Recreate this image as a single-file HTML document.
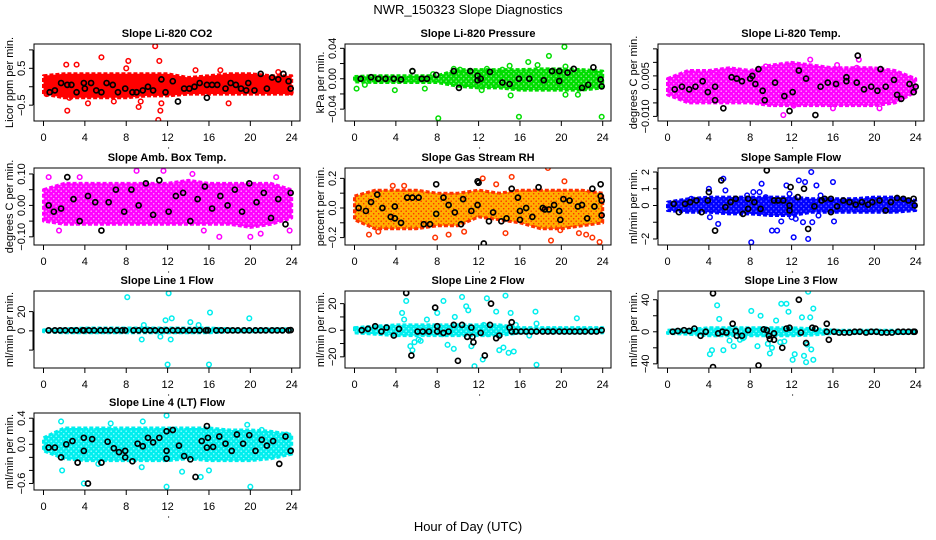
<!DOCTYPE html>
<html><head><meta charset="utf-8">
<style>
html,body{margin:0;padding:0;background:#fff;}
svg{display:block;font-family:"Liberation Sans",Arial,sans-serif;}
</style></head>
<body>
<svg id="chart" width="936" height="540" viewBox="0 0 936 540" xmlns="http://www.w3.org/2000/svg">
<defs id="defs"></defs>
<text x="468" y="14" font-size="13" text-anchor="middle">NWR_150323  Slope Diagnostics</text>
<text x="468" y="531" font-size="13" text-anchor="middle">Hour of Day (UTC)</text>
</svg>
<script>
// ---- data ----
const envHours = [0,2,4,6,8,10,12,14,16,18,20,22,24];
const xTicks = [0,4,8,12,16,20,24];

const co2Upper = [0.3,0.35,0.35,0.35,0.35,0.35,0.35,0.25,0.3,0.35,0.35,0.3,0.3];
const co2Lower = [-0.2,-0.3,-0.3,-0.3,-0.3,-0.25,-0.25,-0.2,-0.2,-0.2,-0.2,-0.2,-0.2];
const co2Out = [[2.2,0.6],[2.3,-0.65],[3.2,0.6],[5.6,0.8],[8.2,0.7],[8,0.5],[9.2,-0.55],[10.8,1.1],[11.2,0.7],[11.1,-0.9],[11.3,-0.65],[11.4,-0.45],[17.9,-0.45],[2.5,-0.3],[4.3,-0.45],[6.8,-0.4],[9.4,-0.4],[0.3,-0.2],[23.9,-0.15],[14.7,0.45],[17.1,0.45],[22.7,0.4]];
const co2Black = [[0.6,-0.15],[1.1,-0.1],[1.7,0.1],[2.3,0.05],[2.7,0.05],[3.2,-0.15],[3.9,0.1],[4,-0.05],[4.6,0.1],[5.1,-0.1],[5.6,-0.15],[6.1,0.1],[6.7,0.05],[7.2,-0.15],[7.9,-0.05],[8.6,-0.15],[9,-0.15],[9.6,-0.1],[10.1,0.0],[10.6,-0.1],[11.4,0.2],[11.8,-0.15],[12.5,0.15],[13,-0.4],[13.6,-0.05],[14.1,-0.05],[14.6,0.0],[15.1,0.1],[15.8,-0.3],[15.8,0.05],[16.3,0.05],[16.8,0.05],[17.6,-0.05],[18.1,0.1],[18.6,0.05],[19.1,-0.05],[19.6,-0.1],[19.8,0.1],[20.4,-0.1],[21,0.35],[21.6,-0.05],[22.1,0.25],[22.7,0.2],[23.2,0.35],[23.7,0.15],[23.9,-0.05]];

const presUpper = [0.003,0.004,0.004,0.004,0.004,0.012,0.012,0.012,0.012,0.013,0.013,0.012,0.01];
const presLower = [-0.004,-0.005,-0.005,-0.005,-0.005,-0.01,-0.012,-0.012,-0.015,-0.015,-0.015,-0.015,-0.012];
const presOut = [[0.2,-0.013],[1,-0.008],[3.9,-0.015],[5.6,0.01],[6.8,-0.013],[7.6,0.006],[8.1,-0.052],[9.6,0.013],[10.2,0.012],[12.8,0.013],[13.4,0.008],[14.3,0.012],[15,0.017],[15.1,-0.022],[15.9,-0.05],[16.8,0.022],[17.7,0.018],[18.8,0.03],[20.3,0.042],[20.4,0.016],[21.6,-0.021],[23.9,-0.05],[20.4,-0.021],[12.3,-0.015]];
const presBlack = [[0.6,0],[1.6,0.002],[2.3,0],[3,0],[3.8,0],[4.5,-0.001],[5.6,0.01],[6.5,0],[7,0],[7.9,0.005],[9.6,0.01],[10.1,-0.012],[11.2,0.01],[11.9,0.004],[11.9,-0.002],[12.2,0],[13.1,0.009],[14.3,-0.005],[15,-0.007],[15.9,0],[16.9,0],[18.3,-0.002],[19.1,0.01],[19.8,0.01],[19.8,-0.003],[20.6,0.008],[21.2,0.013],[22,-0.012],[22.6,-0.008],[23.1,0.015],[23.8,-0.001],[23.9,-0.01]];

const tempUpper = [0.004,0.007,0.007,0.008,0.007,0.009,0.010,0.009,0.008,0.008,0.008,0.007,0.004];
const tempLower = [-0.002,-0.005,-0.005,-0.005,-0.005,-0.006,-0.006,-0.006,-0.006,-0.006,-0.006,-0.005,-0.001];
const tempOut = [[9.5,0.0085],[13.8,0.011],[16.4,0.009],[18.5,0.011],[18.3,0.008],[12.2,-0.006],[11.2,-0.0095],[16,-0.007],[20.5,-0.007],[4.8,0.005]];
const tempBlack = [[0.7,0],[1.4,0.001],[2.1,0],[2.7,0.001],[3.4,0.003],[3.9,-0.001],[4.6,-0.004],[4.6,0.001],[5.4,-0.007],[6.2,0.0045],[6.7,0.004],[7.2,0.003],[8,0.004],[8.2,0.005],[8.5,0.002],[8.8,0.0075],[9.2,-0.0005],[9.4,-0.004],[10.4,0.0025],[11.3,-0.0025],[11.8,-0.008],[12.1,-0.001],[12.7,0.007],[13.4,0.004],[14.3,-0.0095],[14.8,0.001],[15.5,0.0025],[16.3,0.002],[17.3,0.003],[17.3,0.0045],[18.4,0.0125],[19,0],[19.7,0.001],[20.3,-0.0005],[21.1,0.001],[21.9,0.0035],[22.6,-0.0035],[23.4,0.002],[24,0.001],[23.8,-0.001],[20.6,0.0075],[18.3,0.0025],[22.2,-0.002]];

const boxUpper = [0.05,0.07,0.07,0.07,0.07,0.07,0.07,0.08,0.07,0.07,0.07,0.07,0.05];
const boxLower = [-0.05,-0.06,-0.06,-0.06,-0.06,-0.06,-0.06,-0.06,-0.06,-0.06,-0.07,-0.06,-0.04];
const boxOut = [[0.5,0.09],[3.5,0.09],[9,0.11],[11.6,0.11],[14.4,0.1],[20,-0.1],[21,-0.09],[23.8,-0.08],[1.5,-0.08],[15.5,-0.08],[17,-0.1],[22.5,0.09]];
const boxBlack = [[0.5,0],[1,-0.02],[1.7,-0.01],[2.3,0.09],[2.9,0.02],[3.5,-0.05],[4.3,0.03],[5,0.01],[5.6,-0.08],[6.3,0.01],[7,0.05],[7.8,-0.02],[8.5,0.05],[9.2,0.0],[9.9,0.07],[10.6,-0.03],[11.2,0.08],[12.1,-0.02],[12.8,0.03],[13.5,0.04],[14.2,-0.05],[14.9,0.02],[15.6,0.06],[16.3,-0.01],[17.1,0.03],[17.8,0.0],[18.5,0.05],[19.2,-0.02],[19.9,0.07],[20.6,0.01],[21.3,0.04],[22.0,-0.04],[22.7,0.02],[23.4,-0.06],[23.9,0.04]];

const rhUpper = [0.08,0.12,0.12,0.12,0.1,0.1,0.12,0.1,0.12,0.12,0.12,0.12,0.1];
const rhLower = [-0.08,-0.14,-0.14,-0.14,-0.12,-0.12,-0.06,-0.08,-0.1,-0.14,-0.14,-0.12,-0.1];
const rhOut = [[1.4,-0.18],[2.3,-0.16],[3.7,0.15],[4.8,0.15],[7.8,-0.2],[9.1,-0.18],[12.4,0.2],[13.7,0.16],[14.6,-0.17],[15.2,0.21],[18.7,0.27],[19,-0.22],[19.9,-0.15],[20.3,0.18],[21.7,-0.17],[22.4,-0.18],[23.0,-0.2],[23.7,-0.23],[10.6,-0.16]];
const rhBlack = [[0.4,0.0],[1.1,-0.02],[1.6,0.04],[2.2,0.09],[2.7,0],[3.5,-0.06],[3.9,0.01],[3.9,-0.07],[4.5,-0.1],[5.1,0.07],[5.6,0.07],[6.2,0.07],[6.7,-0.11],[7.3,-0.11],[7.9,0.16],[7.9,-0.04],[8.6,0.07],[9.1,0.02],[9.7,-0.03],[10.5,0.06],[10.3,-0.11],[11.3,-0.02],[11.9,0.18],[11.9,0.02],[12.5,-0.24],[13,-0.09],[13.4,-0.03],[14.2,-0.09],[14.7,-0.07],[15.2,0.13],[15.8,0.07],[16,-0.08],[16,-0.02],[16.6,0.0],[17.2,-0.06],[17.8,0.14],[18.2,0],[18.8,-0.01],[19.3,0.02],[19.8,-0.02],[20.2,0.06],[19.9,-0.08],[20.8,0.05],[21.6,0.01],[22.0,0.02],[22.5,-0.07],[23.0,0.13],[23.2,0.01],[23.8,0.08],[23.9,0.05],[23.9,-0.05],[23.8,0.16],[18.4,-0.01],[12.0,0.17]];

const flowUpper = [0.2,0.4,0.5,0.5,0.5,0.5,0.5,0.4,0.4,0.4,0.5,0.5,0.3];
const flowLower = [-0.3,-0.4,-0.4,-0.5,-0.5,-0.6,-0.6,-0.4,-0.4,-0.4,-0.4,-0.4,-0.3];
const flowOut = [[4,1.0],[4.1,-0.7],[4.9,-1.1],[5.4,1.6],[5.6,0.9],[7.7,0.6],[8.1,-2.2],[8.3,0.8],[8.9,0.8],[9.1,1.3],[9.5,0.5],[10.1,-1.5],[10.6,-1.5],[11,-0.95],[11.5,1.2],[11.8,0.7],[12.0,-0.7],[12.2,-1.9],[12.4,-0.8],[12.7,1.5],[13.1,-1.0],[13.3,1.4],[13.6,-2.0],[13.9,2.0],[14.0,-1.0],[14.4,1.2],[14.8,0.6],[16.0,1.4],[16.1,-0.95],[14.6,-0.6],[2.3,0.4]];
const flowBlack = [[0.6,0.1],[1.1,-0.4],[1.7,0.1],[2.2,0.2],[2.8,0.3],[3.3,-0.4],[3.9,0.3],[4.0,0.8],[4.6,-1.5],[5.2,1.5],[5.6,-0.1],[6.1,0.2],[6.6,0.4],[7.3,-0.5],[7.8,0.4],[7.8,-0.2],[8.4,0.2],[9.0,-0.2],[9.6,2.1],[10.3,0.3],[10.7,0.3],[11.2,0.3],[11.8,0.0],[11.9,1.1],[11.8,-0.3],[12.6,0.5],[13.2,1.0],[13.6,-1.4],[14.2,-0.05],[14.9,0.3],[15.2,0.4],[15.8,0.4],[15.8,-0.4],[16.4,-0.05],[17.0,0.3],[17.6,0.2],[18.2,0.05],[18.8,0.2],[19.4,0.05],[19.8,0.2],[20.5,0.3],[21.1,-0.3],[21.6,0.2],[22.2,0.45],[22.8,0.4],[23.3,0.3],[23.8,0.4],[23.9,0.0]];

const l1Upper = [1,2,3,3,3,3,3,3,3,2,2,2,2];
const l1Lower = [-1,-2,-2,-2,-2,-2,-2,-2,-2,-1,-1,-1,-1];
const l1Out = [[8.1,35],[12.1,39],[12,-35],[16,-35],[16.1,19],[19.9,13],[12.4,13],[11.8,11],[9.5,-9],[12.3,-9],[11.3,-6],[14.2,9],[15,6],[9.7,6]];
const l1Black = [[0.5,0.5],[1.1,0.5],[1.6,0.5],[2.1,0.5],[2.7,0.5],[3.2,0.5],[3.8,0.5],[3.9,0.5],[4.4,0.5],[4.9,0.5],[5.5,0.5],[6,0.5],[6.5,0.5],[7.1,0.5],[7.6,0.5],[7.9,0.5],[8.7,0.5],[9.2,0.5],[9.8,0.5],[10.3,0.5],[10.8,0.5],[11.4,0.5],[11.9,0.5],[12.5,0.5],[13,0.5],[13.5,0.5],[14.1,0.5],[14.6,0.5],[15.1,0.5],[15.7,0.5],[15.9,0.5],[16.7,0.5],[17.2,0.5],[17.8,0.5],[18.3,0.5],[18.8,0.5],[19.4,0.5],[19.9,0.5],[20.5,0.5],[21,0.5],[21.5,0.5],[22.1,0.5],[22.6,0.5],[23.1,0.5],[23.7,0.5],[23.9,0.8]];

const l2Upper = [2,3,4,4,4,4,4,4,2,2,2,2,2];
const l2Lower = [-2,-3,-4,-4,-4,-4,-4,-4,-2,-2,-2,-2,-2];
const l2Out = [[4.6,13],[4.8,8],[5,22],[5.4,-12],[5.6,-15],[5.8,-9],[6.2,-7],[6.4,-8],[7.0,8],[8.0,13],[8.5,-3],[8.6,22],[9.0,-11],[9.6,-14],[9.7,10],[10.4,25],[10.8,18],[11.0,15],[11.3,-12],[11.6,-27],[12.4,-22],[12.8,24],[12.9,-3],[13.7,14],[14.0,-15],[14.4,-13],[14.6,26],[14.9,-17],[15.1,13],[15.4,-16],[15.6,4],[16.9,-4],[17.5,14],[17.6,5],[17.6,-26],[21.5,9],[12.5,4]];
const l2Black = [[0.7,0],[1.3,1],[2.0,3],[2.6,-1],[3.1,2],[3.8,-4],[4.3,1],[5,28],[5.5,-19],[6.1,-1],[6.6,-1],[7.2,-1],[7.8,17],[8.0,3],[8.0,-1],[8.6,-2],[9.1,-1],[9.6,4],[10.0,-23],[10.4,4],[10.9,-5],[11.3,2],[11.4,-5],[11.5,-9],[12.2,-2],[12.6,-19],[13.1,4],[13.2,20],[13.7,-6],[14.0,-4],[15.0,2],[15.2,6],[15.2,-1],[15.6,-1],[16.1,-1],[16.6,-1],[17.1,-1],[17.6,-1],[18.2,-1],[18.7,-1],[19.2,-1],[19.8,-1],[20.3,-1],[20.8,-1],[21.3,-1],[21.8,-1],[22.3,-1],[22.9,-1],[23.4,-1],[23.9,0]];

const l3Upper = [2,3,5,5,5,5,5,4,2,2,2,2,2];
const l3Lower = [-2,-3,-5,-5,-5,-5,-5,-4,-2,-2,-2,-2,-2];
const l3Out = [[4.1,-28],[4.3,-23],[4.8,33],[5.0,16],[5.4,-23],[6.0,-11],[6.4,-18],[7.0,-10],[7.3,-8],[7.4,-7],[8.1,26],[8.7,-18],[9.0,20],[9.7,-15],[9.9,-27],[10.1,-20],[10.5,14],[10.9,-13],[11.0,35],[11.3,-12],[11.5,35],[11.7,25],[12.1,-35],[12.3,-28],[13.0,18],[13.2,-30],[13.4,-38],[13.5,-16],[13.6,50],[13.8,18],[14.1,-35],[14.1,29],[13.9,-22]];
const l3Black = [[0.5,0],[1.0,1],[1.6,2],[2.1,1],[2.6,4],[3.2,-5],[3.7,0],[4.4,-44],[4.4,48],[4.9,-2],[5.3,0],[5.7,-1],[6.3,10],[6.6,1],[6.7,-5],[7.2,-5],[7.8,2],[8.8,-42],[9.3,3],[9.6,2],[9.8,-5],[9.9,-9],[10.3,-2],[10.3,-10],[11.1,-20],[11.5,4],[11.8,5],[12.7,40],[12.9,-1],[13.4,-14],[14.0,5],[14.3,4],[15.4,10],[15.4,0],[15.6,-10],[16.1,0],[16.6,-1],[17.1,-1],[17.6,-1],[18.1,0],[18.6,0],[19.2,-1],[19.7,0],[20.2,0],[20.7,-1],[21.2,-1],[21.7,-1],[22.3,0],[22.8,0],[23.3,0],[23.8,0],[23.9,0]];

const l4Upper = [0.1,0.25,0.25,0.25,0.25,0.25,0.25,0.25,0.25,0.22,0.22,0.2,0.15];
const l4Lower = [-0.1,-0.22,-0.25,-0.25,-0.25,-0.25,-0.25,-0.22,-0.25,-0.25,-0.25,-0.22,-0.15];
const l4Out = [[1.7,0.35],[1.8,-0.4],[3.9,-0.6],[6.5,0.32],[9.6,0.35],[11.9,0.44],[11.9,-0.65],[12.3,0.2],[13.4,-0.42],[15.2,-0.5],[19.7,0.3],[20.0,-0.65],[21.1,0.22],[23.5,0.15],[9.5,-0.35],[16.0,-0.4],[5.3,-0.3]];
const l4Black = [[0.5,-0.05],[1.1,-0.05],[1.7,-0.2],[2.2,0.0],[2.8,0.05],[3.3,-0.28],[3.9,0.1],[3.9,-0.1],[4.3,-0.6],[4.7,0.08],[5.6,-0.28],[6.2,0.04],[6.8,-0.06],[7.3,-0.12],[7.9,-0.1],[7.9,-0.2],[8.6,-0.26],[9.1,0.01],[9.6,-0.03],[10.1,0.1],[10.6,0.03],[11.2,0.1],[11.9,-0.1],[11.9,0.2],[11.9,-0.22],[12.5,0.22],[13.1,-0.02],[13.6,-0.18],[14.2,-0.23],[14.7,-0.5],[15.3,0.05],[15.8,0.28],[15.8,-0.05],[15.9,0.1],[16.4,-0.04],[17.0,0.12],[17.6,0.01],[18.2,-0.1],[18.7,0.15],[19.3,0.01],[19.9,0.14],[20.5,-0.1],[21.1,0.07],[21.6,-0.02],[22.2,0.05],[22.8,-0.3],[23.4,0.12],[23.9,-0.1]];

// ---- panel config (layout) ----
const colLeft = [34, 345, 658];
const rowTop = [44, 168, 291, 413];
const boxW = 266, boxH = 77;

const panels = [
 {name:'co2', title:'Slope Li-820 CO2', ylab:'Licor ppm per min.', col:0,row:0, ymin:-0.93, ymax:1.16, ticks:[-0.5,0,0.5,1.0], labels:{'-0.5':'\u22120.5','0.5':'0.5'}, color:'#ff0000', base:'#ff0000', dot:'#ff0000', up:co2Upper, lo:co2Lower, out:co2Out, blk:co2Black},
 {name:'pressure', title:'Slope Li-820 Pressure', ylab:'kPa per min.', col:1,row:0, ymin:-0.0556, ymax:0.0457, ticks:[-0.04,-0.02,0,0.02,0.04], labels:{'-0.04':'\u22120.04','0':'0.00','0.04':'0.04'}, color:'#00dd00', base:'#00dd00', dot:'#88ee88', up:presUpper, lo:presLower, out:presOut, blk:presBlack},
 {name:'temp', title:'Slope Li-820 Temp.', ylab:'degrees C per min.', col:2,row:0, ymin:-0.0117, ymax:0.0168, ticks:[-0.01,-0.005,0,0.005,0.01,0.015], labels:{'-0.01':'\u22120.010','0.005':'0.005'}, color:'#ff00ff', base:'#ff00ff', dot:'#ff99ff', up:tempUpper, lo:tempLower, out:tempOut, blk:tempBlack},
 {name:'ambbox', title:'Slope Amb. Box Temp.', ylab:'degrees C per min.', col:0,row:1, ymin:-0.126, ymax:0.119, ticks:[-0.1,-0.05,0,0.05,0.1], labels:{'-0.1':'\u22120.10','0':'0.00','0.1':'0.10'}, color:'#ff00ff', base:'#ff00ff', dot:'#ff99ff', up:boxUpper, lo:boxLower, out:boxOut, blk:boxBlack},
 {name:'rh', title:'Slope Gas Stream RH', ylab:'percent per min.', col:1,row:1, ymin:-0.25, ymax:0.27, ticks:[-0.2,-0.1,0,0.1,0.2], labels:{'-0.2':'\u22120.2','0':'0.0','0.2':'0.2'}, color:'#ff3300', base:'#ffb000', dot:'#ff3300', up:rhUpper, lo:rhLower, out:rhOut, blk:rhBlack},
 {name:'sampleflow', title:'Slope Sample Flow', ylab:'ml/min per min.', col:2,row:1, ymin:-2.36, ymax:2.24, ticks:[-2,-1,0,1,2], labels:{'-2':'\u22122','0':'0','1':'1','2':'2'}, color:'#0000ff', base:'#0000ff', dot:'#6666ff', up:flowUpper, lo:flowLower, out:flowOut, blk:flowBlack},
 {name:'line1', title:'Slope Line 1 Flow', ylab:'ml/min per min.', col:0,row:2, ymin:-38.6, ymax:41.4, ticks:[-40,-20,0,20], labels:{'-40':'\u221240','0':'0','20':'20'}, color:'#00eeee', base:'#00eeee', dot:'#88ffff', up:l1Upper, lo:l1Lower, out:l1Out, blk:l1Black},
 {name:'line2', title:'Slope Line 2 Flow', ylab:'ml/min per min.', col:1,row:2, ymin:-28.4, ymax:29.5, ticks:[-20,-10,0,10,20], labels:{'-20':'\u221220','0':'0','20':'20'}, color:'#00eeee', base:'#00eeee', dot:'#88ffff', up:l2Upper, lo:l2Lower, out:l2Out, blk:l2Black},
 {name:'line3', title:'Slope Line 3 Flow', ylab:'ml/min per min.', col:2,row:2, ymin:-45.2, ymax:50.9, ticks:[-40,-20,0,20,40], labels:{'-40':'\u221240','0':'0','40':'40'}, color:'#00eeee', base:'#00eeee', dot:'#88ffff', up:l3Upper, lo:l3Lower, out:l3Out, blk:l3Black},
 {name:'line4', title:'Slope Line 4 (LT) Flow', ylab:'ml/min per min.', col:0,row:3, ymin:-0.70, ymax:0.48, ticks:[-0.6,-0.4,-0.2,0,0.2,0.4], labels:{'-0.6':'\u22120.6','0':'0.0','0.4':'0.4'}, color:'#00eeee', base:'#00eeee', dot:'#88ffff', up:l4Upper, lo:l4Lower, out:l4Out, blk:l4Black}
];

const NS = 'http://www.w3.org/2000/svg';
const svg = document.getElementById('chart');
const defs = document.getElementById('defs');
function mk(tag, attrs, parent){
  const e = document.createElementNS(NS, tag);
  for (const k in attrs) e.setAttribute(k, attrs[k]);
  (parent||svg).appendChild(e);
  return e;
}

panels.forEach(p => {
  const L = colLeft[p.col], T = rowTop[p.row], R = L + boxW, B = T + boxH;
  const x0 = L + 9.5, x24 = R - 8.3;
  const xs = h => x0 + (x24 - x0) * h / 24;
  const ys = v => B - (v - p.ymin) / (p.ymax - p.ymin) * boxH;

  const pat = mk('pattern', {id:'pat-'+p.name, width:5, height:5, patternUnits:'userSpaceOnUse'}, defs);
  mk('rect', {x:0, y:0, width:5, height:5, fill:p.base}, pat);
  mk('circle', {cx:1.2, cy:1.2, r:0.8, fill:p.dot}, pat);
  mk('circle', {cx:3.7, cy:3.7, r:0.8, fill:p.dot}, pat);

  const g = mk('g', {});
  
  

  const t = mk('text', {x:(L+R)/2, y:T-7, 'font-size':11, 'font-weight':'bold', 'text-anchor':'middle'}, g);
  t.textContent = p.title;
  
  

  const clip = mk('clipPath', {id:'clip-'+p.name}, g);
  mk('rect', {x:L, y:T, width:boxW, height:boxH}, clip);
  let d = '';
  envHours.forEach((h,i) => { d += (i?'L':'M') + xs(h).toFixed(1) + ',' + ys(p.up[i]).toFixed(1); });
  for (let i = envHours.length-1; i >= 0; i--) d += 'L' + xs(envHours[i]).toFixed(1) + ',' + ys(p.lo[i]).toFixed(1);
  d += 'Z';
  const band = mk('path', {d:d, fill:'url(#pat-'+p.name+')', stroke:p.color, 'stroke-width':3, 'stroke-dasharray':'4 2', 'stroke-linejoin':'round', 'clip-path':'url(#clip-'+p.name+')'}, g);
  
  

  p.out.forEach(pt => {
    const c = mk('circle', {cx:xs(pt[0]), cy:ys(pt[1]), r:2.3, fill:'none', stroke:p.color, 'stroke-width':1.5, 'clip-path':'url(#clip-'+p.name+')'}, g);
    
    
  });
  p.blk.forEach(pt => {
    const c = mk('circle', {cx:xs(pt[0]), cy:ys(pt[1]), r:2.5, fill:'none', stroke:'#000', 'stroke-width':1.7, 'clip-path':'url(#clip-'+p.name+')'}, g);
    
    
  });

  const box = mk('rect', {x:L, y:T, width:boxW, height:boxH, fill:'none', stroke:'#000', 'stroke-width':1}, g);
  
  

  mk('line', {x1:xs(0), x2:xs(24), y1:B, y2:B, stroke:'#000'}, g);
  xTicks.forEach(h => {
    mk('line', {x1:xs(h), x2:xs(h), y1:B, y2:B+5, stroke:'#000'}, g);
    const tl = mk('text', {x:xs(h), y:B+20, 'font-size':11, 'text-anchor':'middle'}, g);
    tl.textContent = h;
    
    
  });
  mk('circle', {cx:xs(12)+1, cy:B+27, r:0.6, fill:'#000'}, g);

  const yv = p.ticks.filter(v => v >= p.ymin && v <= p.ymax);
  mk('line', {x1:L-1, x2:L-1, y1:ys(yv[0]), y2:ys(yv[yv.length-1]), stroke:'#000'}, g);
  yv.forEach(v => {
    mk('line', {x1:L-5, x2:L-1, y1:ys(v), y2:ys(v), stroke:'#000'}, g);
    const lab = p.labels[String(v)];
    if (lab) {
      const tl = mk('text', {x:0, y:0, 'font-size':11, 'text-anchor':'middle', transform:'translate('+(L-9)+','+ys(v).toFixed(1)+') rotate(-90)'}, g);
      tl.textContent = lab;
      
      
    }
  });
  const yl = mk('text', {x:0, y:0, 'font-size':11, 'text-anchor':'middle', transform:'translate('+(L-21)+','+(T+boxH/2)+') rotate(-90)'}, g);
  yl.textContent = p.ylab;
  
  
});
</script>
</body></html>
